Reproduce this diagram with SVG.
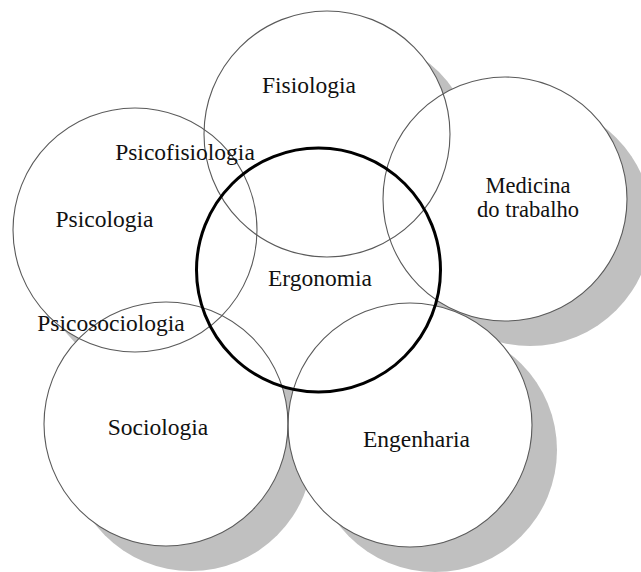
<svg xmlns="http://www.w3.org/2000/svg" xmlns:xlink="http://www.w3.org/1999/xlink" width="641" height="572" viewBox="0 0 641 572">
  <style>
    .shadow { fill: #c0c0c0; stroke: none; }
    .fill { fill: #ffffff; stroke: none; }
    .ring { fill: none; stroke: #5a5a5a; stroke-width: 1.1; }
    .core { fill: none; stroke: #000000; stroke-width: 3; }
    .label { font-family: "Liberation Serif", "Times New Roman", serif; font-size: 23.5px; fill: #111111; text-anchor: middle; }
    .small { font-size: 22.5px; }
  </style>
  <defs>
    <circle id="c-fisio" cx="327" cy="134" r="123"/>
    <circle id="c-med" cx="505" cy="199" r="122"/>
    <circle id="c-psico" cx="135" cy="230" r="122"/>
    <circle id="c-ergo" cx="318.5" cy="270" r="122"/>
    <circle id="c-socio" cx="166" cy="424" r="122"/>
    <circle id="c-eng" cx="410" cy="425" r="122"/>
  </defs>
  <rect width="641" height="572" fill="#ffffff"/>

  <!-- drop shadows, offset down-right -->
  <g id="shadows" class="shadow" transform="translate(25 25)">
    <use xlink:href="#c-fisio"/>
    <use xlink:href="#c-med"/>
    <use xlink:href="#c-psico"/>
    <use xlink:href="#c-ergo"/>
    <use xlink:href="#c-socio"/>
    <use xlink:href="#c-eng"/>
  </g>

  <!-- white discs hide the shadows inside every circle -->
  <g id="discs" class="fill">
    <use xlink:href="#c-fisio"/>
    <use xlink:href="#c-med"/>
    <use xlink:href="#c-psico"/>
    <use xlink:href="#c-ergo"/>
    <use xlink:href="#c-socio"/>
    <use xlink:href="#c-eng"/>
  </g>

  <g id="fisiologia">
    <use xlink:href="#c-fisio" class="ring"/>
    <text class="label" x="309" y="93">Fisiologia</text>
  </g>
  <g id="medicina">
    <use xlink:href="#c-med" class="ring"/>
    <text class="label small" x="528" y="192.5">Medicina</text>
    <text class="label small" x="528" y="216.5">do trabalho</text>
  </g>
  <g id="psicologia">
    <use xlink:href="#c-psico" class="ring"/>
    <text class="label" x="104.5" y="227">Psicologia</text>
  </g>
  <g id="sociologia">
    <use xlink:href="#c-socio" class="ring"/>
    <text class="label" x="158" y="435">Sociologia</text>
  </g>
  <g id="engenharia">
    <use xlink:href="#c-eng" class="ring"/>
    <text class="label" x="416.5" y="447">Engenharia</text>
  </g>
  <g id="ergonomia">
    <use xlink:href="#c-ergo" class="core"/>
    <text class="label" x="320" y="286">Ergonomia</text>
  </g>

  <!-- overlap labels -->
  <g id="psicofisiologia">
    <text class="label" x="185" y="160">Psicofisiologia</text>
  </g>
  <g id="psicosociologia">
    <text class="label" x="111" y="331">Psicosociologia</text>
  </g>
</svg>
